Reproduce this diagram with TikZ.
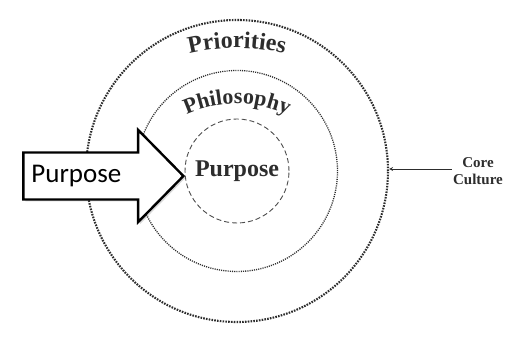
\documentclass[tikz,border=0pt]{standalone}
\usepackage{fontspec}
\setmainfont{Liberation Serif}
\newfontfamily\calibrifont{Carlito}
\usepackage{tikz}
\usetikzlibrary{shapes,arrows,positioning,calc,shadows,decorations.text}
\definecolor{inkgray}{RGB}{45,45,45}

\begin{document}
\begin{tikzpicture}[x=1pt, y=1pt, >=stealth,
    ring/.style={circle, draw=inkgray, inner sep=0pt},
    outerring/.style={ring, line width=2.1pt, dash pattern=on 1.6pt off 1.2pt, minimum size=302pt},
    midring/.style={ring, line width=1.3pt, dash pattern=on 1.1pt off 1.1pt, minimum size=201pt},
    innerring/.style={ring, draw=black!70, line width=0.9pt, dash pattern=on 5pt off 3pt, minimum size=104pt,
        text=inkgray, font=\bfseries\fontsize{24}{28}\selectfont},
    purposearrow/.style={single arrow, draw=black, line width=2.4pt, fill=white,
        single arrow head extend=22.5pt, single arrow tip angle=91, minimum height=160pt,
        inner xsep=0pt, inner ysep=22.3pt,
        drop shadow={shadow xshift=2pt, shadow yshift=-2pt, opacity=0.3}},
    arrowtext/.style={inner sep=0pt, font=\calibrifont\fontsize{27}{32}\selectfont},
    corelabel/.style={align=center, inner sep=1pt, text=inkgray, font=\bfseries\fontsize{15}{17}\selectfont}
]
    % Canvas
    \path[use as bounding box, fill=white] (0,0) rectangle (520,348);
    \coordinate (C) at (237,177);

    % Culture rings
    \node[outerring] (outer) at (C) {};
    \node[midring] (middle) at (C) {};
    \node[innerring] (inner) at (C) {Purpose};

    % Curved ring labels
    \path[decorate, decoration={text along path, text align=center,
        text={|\bfseries\fontsize{24}{28}\selectfont\color{inkgray}|Priorities}}]
        ($(C)+(0,-77)+(120:200)$) arc[start angle=120, end angle=60, radius=200];
    \path[decorate, decoration={text along path, text align=center,
        text={|\bfseries\fontsize{22}{26}\selectfont\color{inkgray}|Philosophy}}]
        ($(C)+(0,-53)+(135:120)$) arc[start angle=135, end angle=45, radius=120];

    % Purpose arrow
    \node[purposearrow, anchor=tail] (arw) at (22.2,172) {};
    \node[arrowtext, right=9pt of arw.tail] (arwtext) {Purpose};

    % Core culture pointer
    \node[corelabel] (core) at (478,177) {Core\\Culture};
    \draw[->, line width=0.8pt, inkgray] ([yshift=2pt]core.west) -- ([yshift=2pt]core.west -| outer.east);
\end{tikzpicture}
\end{document}
